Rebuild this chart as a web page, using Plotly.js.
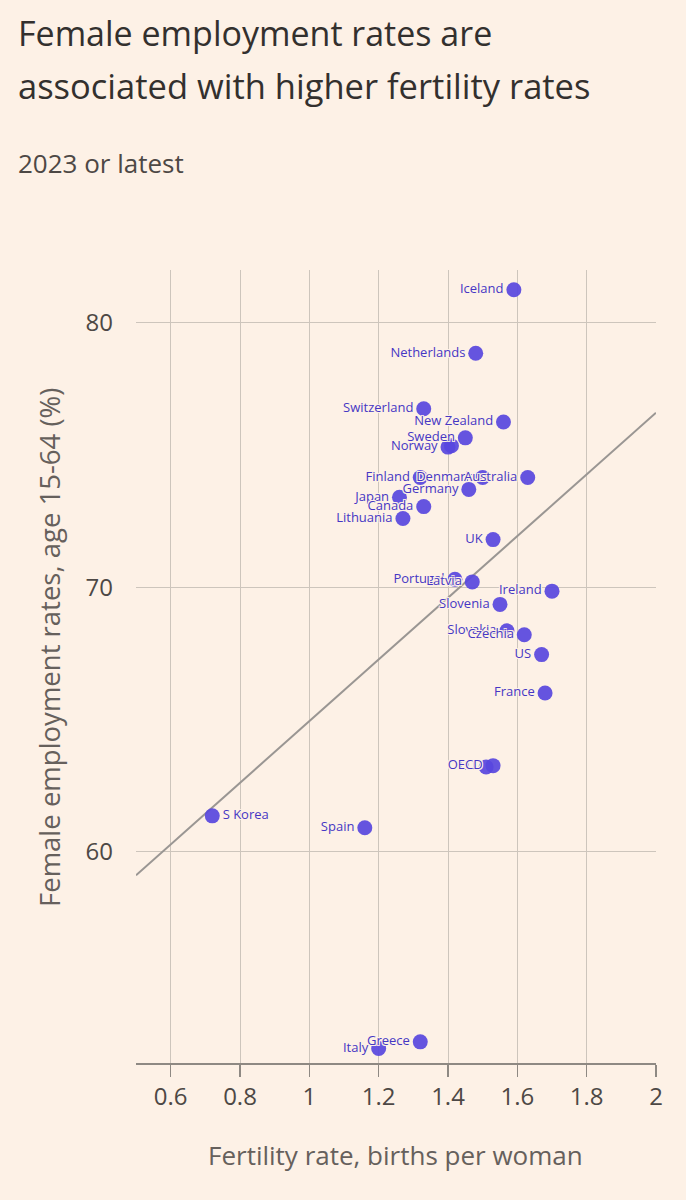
<!DOCTYPE html>
<html>
<head>
<meta charset="utf-8">
<script src="https://cdn.plot.ly/plotly-3.0.1.min.js"></script>
<style>
    html, body { margin: 0; padding: 0; background: #fdf1e6; }
    #chart { width: 686px; height: 1200px; }
</style>
</head>
<body>
<div id="chart"></div>
<script>
// Values (2023 or latest)
const countries = [
    "Iceland", "Netherlands", "Switzerland", "New Zealand", "Sweden", "Norway", "",
    "Finland", "Denmark", "Australia", "Germany", "Japan", "Canada", "Lithuania",
    "UK", "Portugal", "Latvia", "Ireland", "Slovenia", "Slovakia", "Czechia",
    "US", "France", "EU", "OECD", "S Korea", "Spain", "Greece", "Italy"
];
const fertility = [
    1.59, 1.48, 1.33, 1.56, 1.45, 1.40, 1.41,
    1.32, 1.50, 1.63, 1.46, 1.26, 1.33, 1.27,
    1.53, 1.42, 1.47, 1.70, 1.55, 1.57, 1.62,
    1.67, 1.68, 1.51, 1.53, 0.72, 1.16, 1.32, 1.20
];
const femaleEmployment = [
    81.25, 78.85, 76.75, 76.25, 75.65, 75.30, 75.35,
    74.15, 74.15, 74.15, 73.70, 73.40, 73.05, 72.60,
    71.80, 70.30, 70.20, 69.85, 69.35, 68.35, 68.20,
    67.45, 66.00, 63.20, 63.25, 61.35, 60.90, 52.80, 52.55
];
const labelSide = countries.map(c => c === "S Korea" ? "middle right" : "middle left");

// Fitted trend line, end points as drawn
const trendX = [0.5, 2];
const trendY = [59.1, 76.6];

const xTicks = [0.6, 0.8, 1, 1.2, 1.4, 1.6, 1.8, 2];
const yTicks = [60, 70, 80];

const PAPER = '#fdf1e6';
const FONT = '"Open Sans", "Noto Sans", sans-serif';
const halo = [
    `-1px -1px 0 ${PAPER}`, `1px -1px 0 ${PAPER}`,
    `-1px 1px 0 ${PAPER}`, `1px 1px 0 ${PAPER}`,
    `0 -1px 0 ${PAPER}`, `0 1px 0 ${PAPER}`
].join(', ');

// plot box in pixels, used to place the free texts
const PLOT = { l: 136, r: 656, t: 270, b: 1063 };
const px = x => (x - PLOT.l) / (PLOT.r - PLOT.l);
const py = y => (PLOT.b - y) / (PLOT.b - PLOT.t);

const data = [
    {
        x: trendX,
        y: trendY,
        type: 'scatter',
        mode: 'lines',
        line: { color: '#9a9693', width: 2 },
        hoverinfo: 'skip'
    },
    {
        x: fertility,
        y: femaleEmployment,
        text: countries,
        type: 'scatter',
        mode: 'markers+text',
        textposition: labelSide,
        textfont: { family: FONT, size: 13, color: '#4637c4', shadow: halo },
        marker: { size: 15, color: '#5846de', opacity: 0.92 },
        cliponaxis: false
    }
];

const annotations = [
    { text: 'Female employment rates are', x: px(17), y: py(33), size: 34, color: '#33302e' },
    { text: 'associated with higher fertility rates', x: px(17), y: py(85), size: 34.5, color: '#33302e' },
    { text: '2023 or latest', x: px(17), y: py(163), size: 26, color: '#4d4845' }
].map(a => ({
    text: a.text,
    xref: 'paper', yref: 'paper',
    x: a.x, y: a.y,
    xanchor: 'left', yanchor: 'middle',
    showarrow: false,
    borderpad: 0,
    font: { family: FONT, size: a.size, color: a.color }
}));

annotations.push({
    text: 'Female employment rates, age 15-64 (%)',
    xref: 'paper', yref: 'paper',
    x: px(49), y: py(648),
    xanchor: 'center', yanchor: 'middle',
    textangle: -90,
    showarrow: false,
    font: { family: FONT, size: 27.5, weight: 500, color: '#66605c' }
});
annotations.push({
    text: 'Fertility rate, births per woman',
    xref: 'paper', yref: 'paper',
    x: px(395), y: py(1155),
    xanchor: 'center', yanchor: 'middle',
    showarrow: false,
    font: { family: FONT, size: 26, weight: 500, color: '#66605c' }
});

const layout = {
    width: 686,
    height: 1200,
    paper_bgcolor: PAPER,
    plot_bgcolor: PAPER,
    showlegend: false,
    margin: { l: PLOT.l, r: 686 - PLOT.r, t: PLOT.t, b: 1200 - PLOT.b },
    font: { family: FONT, color: '#33302e' },
    annotations: annotations,
    xaxis: {
        range: [0.5, 2],
        tickvals: xTicks,
        ticktext: xTicks.map(String),
        showgrid: true,
        gridcolor: '#cdc5bc',
        gridwidth: 1,
        zeroline: false,
        showline: true,
        linecolor: '#8e8983',
        linewidth: 1.5,
        ticks: 'outside',
        ticklen: 12,
        tickcolor: '#8e8983',
        tickwidth: 1.5,
        tickfont: { family: FONT, size: 24, color: '#4d4845' }
    },
    yaxis: {
        range: [52, 82],
        tickvals: yTicks,
        showgrid: true,
        gridcolor: '#cdc5bc',
        gridwidth: 1,
        zeroline: false,
        showline: false,
        ticks: '',
        ticklabelstandoff: 22,
        tickfont: { family: FONT, size: 24, color: '#4d4845' }
    }
};

Plotly.newPlot('chart', data, layout, { displayModeBar: false, staticPlot: true });
</script>
</body>
</html>
